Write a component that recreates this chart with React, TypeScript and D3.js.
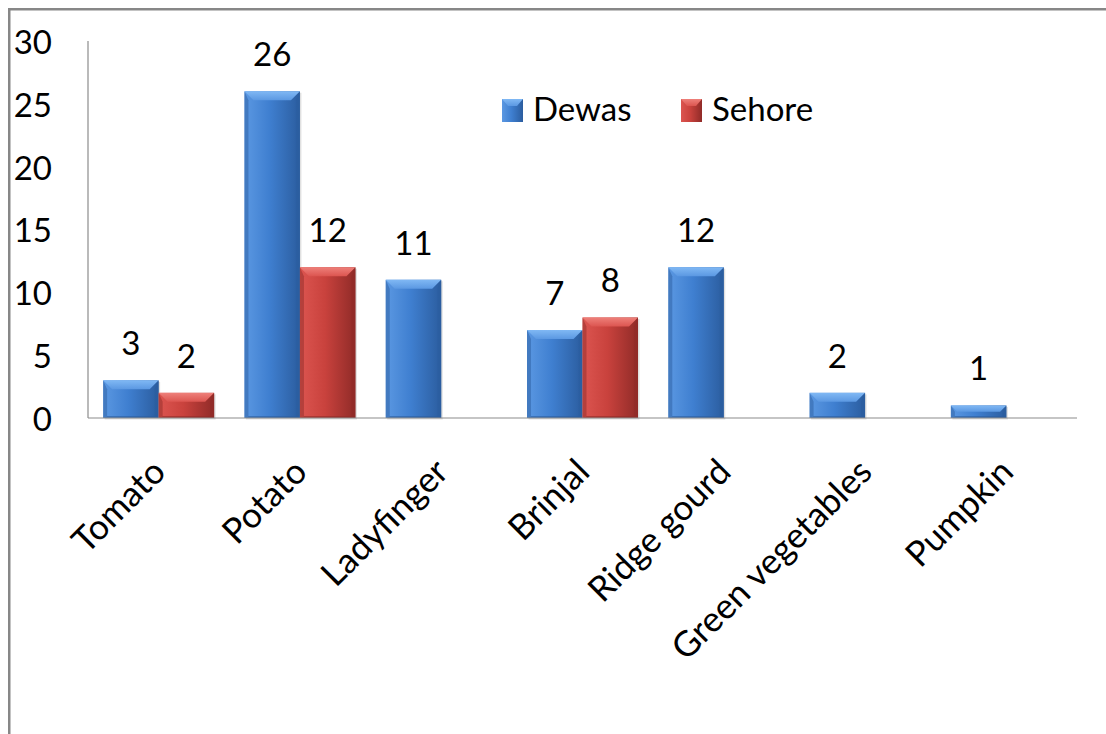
import React from "react";
import * as d3 from "d3";

const categories = ["Tomato", "Potato", "Ladyfinger", "Brinjal", "Ridge gourd", "Green vegetables", "Pumpkin"];
const seriesNames = ["Dewas", "Sehore"];
const dewas: (number | null)[] = [3, 26, 11, 7, 12, 2, 1];
const sehore: (number | null)[] = [2, 12, null, 8, null, null, null];
const yTicks = [0, 5, 10, 15, 20, 25, 30];

const W = 1106;
const H = 734;
const FONT = "Lato, 'Open Sans', sans-serif";
const FS = 33;

const palette: Record<string, { main: string; light: string; dark: string; top: string }> = {
  Dewas: { main: "#3f7fd0", light: "#5b98e2", dark: "#2b5d9f", top: "#80b8f4" },
  Sehore: { main: "#c9423d", light: "#dc5550", dark: "#902b28", top: "#ee807a" },
};

export default function App() {
  const x = d3.scaleBand<string>().domain(categories).range([88, 1077]).padding(0);
  const xs = d3.scaleBand<string>().domain(seriesNames).range([0, x.bandwidth()]).paddingInner(0).paddingOuter(0.273);
  const y = d3.scaleLinear().domain([0, 30]).range([418, 41]);

  const values: Record<string, (number | null)[]> = { Dewas: dewas, Sehore: sehore };

  const bars: JSX.Element[] = [];
  const labels: JSX.Element[] = [];
  categories.forEach((c, i) => {
    seriesNames.forEach((s) => {
      const v = values[s][i];
      if (v == null) return;
      const x0 = (x(c) as number) + (xs(s) as number);
      const w = xs.bandwidth();
      const yt = y(v);
      const h = y(0) - yt;
      const b = Math.min(9, h / 2);
      const sb = Math.min(4, w / 4);
      const col = palette[s];
      bars.push(
        <g key={`${c}-${s}`}>
          <rect x={x0 + 1.5} y={yt + 1.5} width={w} height={h} fill="#000" opacity={0.12} />
          <rect x={x0} y={yt} width={w} height={h} fill={`url(#grad-${s})`} />
          <polygon
            points={`${x0},${yt + h} ${x0 + sb},${yt + h - 2} ${x0 + sb},${yt + b} ${x0},${yt}`}
            fill={col.dark}
            opacity={0.5}
          />
          <polygon
            points={`${x0 + w},${yt + h} ${x0 + w - sb},${yt + h - 2} ${x0 + w - sb},${yt + b} ${x0 + w},${yt}`}
            fill={col.dark}
            opacity={0.65}
          />
          <polygon
            points={`${x0},${yt + h} ${x0 + w},${yt + h} ${x0 + w - sb},${yt + h - 2} ${x0 + sb},${yt + h - 2}`}
            fill={col.dark}
            opacity={0.6}
          />
          <polygon
            points={`${x0},${yt} ${x0 + w},${yt} ${x0 + w - b},${yt + b} ${x0 + b},${yt + b}`}
            fill={`url(#top-${s})`}
          />
        </g>
      );
      labels.push(
        <text
          key={`l-${c}-${s}`}
          x={x0 + w / 2}
          y={yt - 25}
          textAnchor="middle"
          fontFamily={FONT}
          fontSize={FS}
          fill="#000"
        >
          {v}
        </text>
      );
    });
  });

  return (
    <div style={{ position: "absolute", left: 0, top: 0 }}>
      <svg width={W} height={H} style={{ display: "block", background: "#fff" }}>
        <defs>
          {seriesNames.map((s) => (
            <React.Fragment key={s}>
              <linearGradient id={`grad-${s}`} x1="0" x2="1" y1="0" y2="0">
                <stop offset="0" stopColor={palette[s].light} />
                <stop offset="0.45" stopColor={palette[s].main} />
                <stop offset="1" stopColor={palette[s].dark} />
              </linearGradient>
              <linearGradient id={`top-${s}`} x1="0" x2="0" y1="0" y2="1">
                <stop offset="0" stopColor={palette[s].top} />
                <stop offset="1" stopColor={palette[s].light} />
              </linearGradient>
            </React.Fragment>
          ))}
        </defs>
        <rect x={9.25} y={9.25} width={1200} height={1000} fill="none" stroke="#878787" strokeWidth={2.5} />

        <line x1={88} x2={88} y1={y(30)} y2={y(0)} stroke="#8c8c8c" strokeWidth={1.2} />
        {yTicks.map((t) => (
          <text
            key={t}
            x={52}
            y={y(t) + 1}
            dy="0.36em"
            textAnchor="end"
            fontFamily={FONT}
            fontSize={FS}
            fill="#000"
          >
            {t}
          </text>
        ))}

        {bars}
        <line x1={88} x2={1077} y1={y(0)} y2={y(0)} stroke="#8c8c8c" strokeWidth={1.2} />
        {labels}

        {categories.map((c) => {
          const cx = (x(c) as number) + x.bandwidth() / 2;
          const ex = cx + 9;
          const ey = 474;
          return (
            <text
              key={c}
              x={ex}
              y={ey}
              transform={`rotate(-45 ${ex} ${ey})`}
              textAnchor="end"
              fontFamily={FONT}
              fontSize={35}
              fill="#000"
            >
              {c}
            </text>
          );
        })}

        {seriesNames.map((s, i) => {
          const lx = i === 0 ? 502 : 681;
          return (
            <g key={s}>
              <rect x={lx} y={99} width={21} height={23} fill={`url(#grad-${s})`} />
              <polygon
                points={`${lx},99 ${lx + 21},99 ${lx + 15},106 ${lx + 6},106`}
                fill={`url(#top-${s})`}
              />
              <text x={lx + 31} y={121} fontFamily={FONT} fontSize={FS} fill="#000">
                {s}
              </text>
            </g>
          );
        })}
      </svg>
    </div>
  );
}
